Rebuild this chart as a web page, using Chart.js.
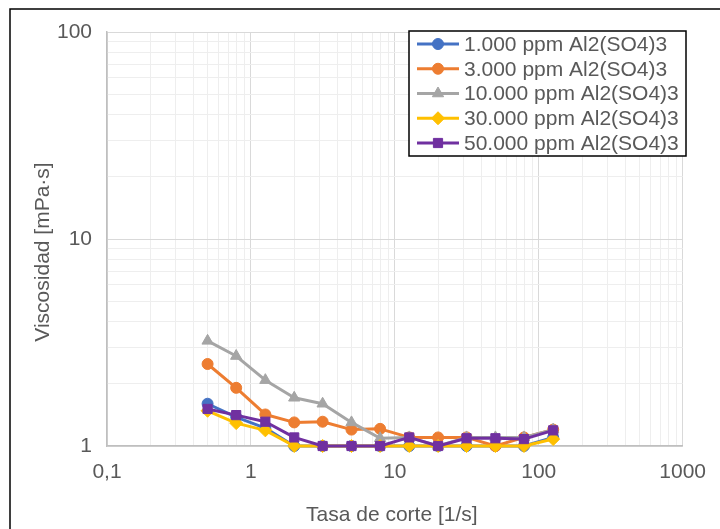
<!DOCTYPE html>
<html lang="es">
<head>
<meta charset="utf-8">
<title>Viscosidad vs tasa de corte</title>
<script src="https://cdn.jsdelivr.net/npm/chart.js@4/dist/chart.umd.min.js"></script>
<style>
  html, body { margin: 0; padding: 0; background: #ffffff; }
  #wrap { position: relative; width: 720px; height: 529px; }
</style>
</head>
<body>
<div id="wrap"><canvas id="chart" width="720" height="529"></canvas></div>
<script>
// Shear rates [1/s]
const shearRates = [0.5, 0.79, 1.26, 2, 3.15, 5, 7.9, 12.6, 20, 31.5, 50, 79, 126];

// Viscosity [mPa·s] for each coagulant dose
const visc1000  = [1.6, 1.38, 1.22, 1.0, 1.0, 1.0, 1.0, 1.0, 1.0, 1.0, 1.0, 1.0, 1.1];
const visc3000  = [2.49, 1.91, 1.42, 1.3, 1.31, 1.2, 1.21, 1.1, 1.1, 1.1, 1.0, 1.1, 1.2];
const visc10000 = [3.22, 2.72, 2.08, 1.71, 1.6, 1.3, 1.09, 1.1, 1.0, 1.1, 1.1, 1.1, 1.2];
const visc30000 = [1.48, 1.29, 1.19, 1.0, 1.0, 1.0, 1.0, 1.0, 1.0, 1.0, 1.0, 1.0, 1.08];
const visc50000 = [1.51, 1.41, 1.31, 1.1, 1.0, 1.0, 1.0, 1.1, 1.0, 1.09, 1.09, 1.08, 1.19];

const seriesLabels = [
  '1.000 ppm Al2(SO4)3',
  '3.000 ppm Al2(SO4)3',
  '10.000 ppm Al2(SO4)3',
  '30.000 ppm Al2(SO4)3',
  '50.000 ppm Al2(SO4)3'
];

// Axis limits (decades) and labels
const xMinExp = -1, xMaxExp = 3;
const yMinExp = 0, yMaxExp = 2;
const xTitle = 'Tasa de corte [1/s]';
const yTitle = 'Viscosidad [mPa·s]';

const FONT = '"Liberation Sans", Arial, Helvetica, sans-serif';
const TEXT = '#595959';
const FS = 21;

const seriesValues = [visc1000, visc3000, visc10000, visc30000, visc50000];
const colors  = ['#4472C4', '#ED7D31', '#A5A5A5', '#FFC000', '#7030A0'];
const shapes  = ['circle', 'circle', 'triangle', 'rectRot', 'rect'];
const radii   = [5.5, 5.5, 6.5, 6.5, 6.5];

function logTicks(lo, hi) {
  const out = [];
  for (let e = lo; e < hi; e++) {
    for (let m = 1; m <= 9; m++) out.push(m * Math.pow(10, e));
  }
  out.push(Math.pow(10, hi));
  return out;
}
function isDecade(v) {
  const l = Math.log10(v);
  return Math.abs(l - Math.round(l)) < 1e-9;
}
function decadeLabel(v) {
  if (!isDecade(v)) return '';
  const e = Math.round(Math.log10(v));
  const s = e < 0 ? (Math.pow(10, e)).toFixed(-e) : String(Math.pow(10, e));
  return s.replace('.', ',');
}

const datasets = seriesValues.map((vals, i) => ({
  label: seriesLabels[i],
  data: shearRates.map((x, k) => ({ x: x, y: vals[k] })),
  borderColor: colors[i],
  backgroundColor: colors[i],
  pointBackgroundColor: colors[i],
  pointBorderColor: colors[i],
  pointBorderWidth: 1,
  pointStyle: shapes[i],
  pointRadius: radii[i],
  borderWidth: 3,
  tension: 0,
  clip: false,
  order: seriesValues.length - i
}));

// Page background and the chart frame
const framePlugin = {
  id: 'frame',
  beforeDraw(chart) {
    const c = chart.ctx;
    c.save();
    c.fillStyle = '#ffffff';
    c.fillRect(0, 0, chart.width, chart.height);
    c.strokeStyle = '#000000';
    c.lineWidth = 1.5;
    c.beginPath();
    c.moveTo(10, chart.height + 2);
    c.lineTo(10, 9);
    c.lineTo(chart.width + 2, 9);
    c.stroke();
    c.restore();
  }
};

// Axis titles
const titlesPlugin = {
  id: 'axisTitles',
  afterDraw(chart) {
    const c = chart.ctx;
    const a = chart.chartArea;
    c.save();
    c.fillStyle = TEXT;
    c.font = FS + 'px ' + FONT;
    c.textAlign = 'center';
    c.textBaseline = 'middle';
    c.fillText(xTitle, (a.left + a.right) / 2 - 3, 515);
    c.translate(43, 252);
    c.rotate(-Math.PI / 2);
    c.fillText(yTitle, 0, 0);
    c.restore();
  }
};

// Framed legend inside the plot area
const boxLegendPlugin = {
  id: 'boxLegend',
  afterDraw(chart) {
    const c = chart.ctx;
    const box = { x: 409, y: 31, w: 277, h: 125 };
    c.save();
    c.fillStyle = '#ffffff';
    c.fillRect(box.x, box.y, box.w, box.h);
    c.strokeStyle = '#000000';
    c.lineWidth = 1.5;
    c.strokeRect(box.x, box.y, box.w, box.h);
    const rowH = 24.75;
    chart.data.datasets.forEach((ds, i) => {
      const cy = box.y + 13 + i * rowH;
      c.strokeStyle = ds.borderColor;
      c.lineWidth = 3;
      c.beginPath();
      c.moveTo(box.x + 8, cy);
      c.lineTo(box.x + 50, cy);
      c.stroke();
      const opts = {
        pointStyle: ds.pointStyle,
        radius: ds.pointRadius,
        borderWidth: 1,
        rotation: 0
      };
      c.fillStyle = ds.pointBackgroundColor;
      c.strokeStyle = ds.pointBorderColor;
      c.lineWidth = 1;
      if (Chart.helpers && Chart.helpers.drawPoint) {
        Chart.helpers.drawPoint(c, opts, box.x + 29, cy);
      } else {
        c.beginPath();
        c.arc(box.x + 29, cy, ds.pointRadius, 0, Math.PI * 2);
        c.fill();
      }
      c.fillStyle = TEXT;
      c.font = FS + 'px ' + FONT;
      c.textAlign = 'left';
      c.textBaseline = 'middle';
      c.fillText(ds.label, box.x + 55, cy + 1);
    });
    c.restore();
  }
};

function gridColor(ctx) {
  if (!ctx.tick) return '#d9d9d9';
  return isDecade(ctx.tick.value) ? '#d9d9d9' : '#eeeeee';
}

new Chart(document.getElementById('chart'), {
  type: 'line',
  data: { datasets: datasets },
  options: {
    responsive: false,
    animation: false,
    devicePixelRatio: 1,
    layout: { padding: { top: 32, right: 33, left: 0, bottom: 0 } },
    plugins: {
      legend: { display: false },
      tooltip: { enabled: false },
      title: { display: false }
    },
    elements: { line: { borderCapStyle: 'round', borderJoinStyle: 'round' } },
    scales: {
      x: {
        type: 'logarithmic',
        min: Math.pow(10, xMinExp),
        max: Math.pow(10, xMaxExp),
        afterBuildTicks(scale) {
          scale.ticks = logTicks(xMinExp, xMaxExp).map(v => ({ value: v, major: isDecade(v) }));
        },
        afterFit(scale) { scale.height = 83; },
        ticks: {
          autoSkip: false,
          maxRotation: 0,
          minRotation: 0,
          padding: 14,
          color: TEXT,
          font: { family: FONT, size: FS },
          callback: (v) => decadeLabel(v)
        },
        grid: {
          color: gridColor,
          lineWidth: 1,
          drawTicks: false
        },
        border: { display: true, color: '#bfbfbf', width: 1.5 },
        title: { display: false }
      },
      y: {
        type: 'logarithmic',
        min: Math.pow(10, yMinExp),
        max: Math.pow(10, yMaxExp),
        afterBuildTicks(scale) {
          scale.ticks = logTicks(yMinExp, yMaxExp).map(v => ({ value: v, major: isDecade(v) }));
        },
        afterFit(scale) { scale.width = 107; },
        ticks: {
          autoSkip: false,
          padding: 15,
          color: TEXT,
          font: { family: FONT, size: FS },
          callback: (v) => decadeLabel(v)
        },
        grid: {
          color: gridColor,
          lineWidth: 1,
          drawTicks: false
        },
        border: { display: true, color: '#bfbfbf', width: 1.5 },
        title: { display: false }
      }
    }
  },
  plugins: [framePlugin, titlesPlugin, boxLegendPlugin]
});
</script>
</body>
</html>
